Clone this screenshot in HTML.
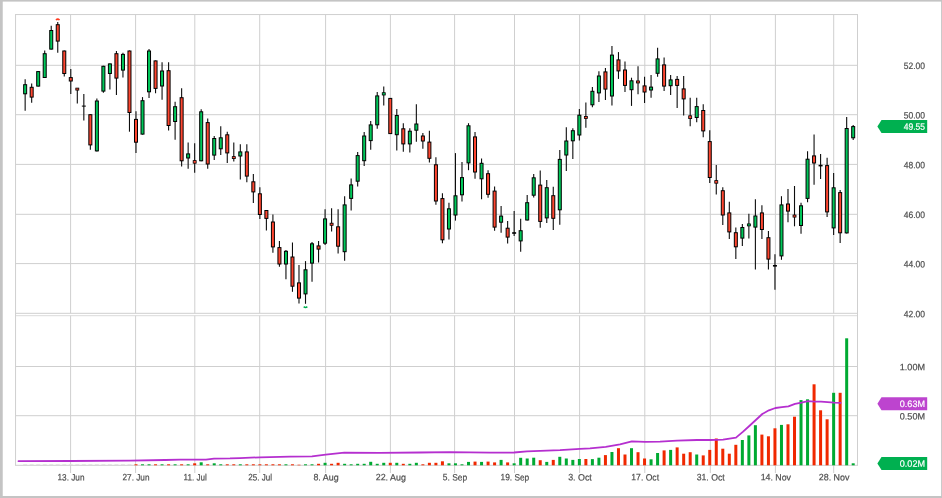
<!DOCTYPE html>
<html><head><meta charset="utf-8"><title>Chart</title>
<style>html,body{margin:0;padding:0;background:#fff}svg{display:block}</style></head>
<body>
<svg width="942" height="498" viewBox="0 0 942 498" font-family="'Liberation Sans', sans-serif" font-size="9.2" text-rendering="geometricPrecision">
<rect x="0" y="0" width="942" height="498" fill="#c4c4c4"/>
<rect x="2.75" y="1.6" width="938.35" height="494.4" fill="#ffffff"/>
<path d="M16.05 315.7H857.0" fill="none" stroke="#dadada" stroke-width="1"/>
<path d="M70.6 14.55V313.3M70.6 315.7V473.0M135.6 14.55V313.3M135.6 315.7V473.0M194.8 14.55V313.3M194.8 315.7V473.0M259.7 14.55V313.3M259.7 315.7V473.0M325.6 14.55V313.3M325.6 315.7V473.0M390.4 14.55V313.3M390.4 315.7V473.0M454.6 14.55V313.3M454.6 315.7V473.0M514.5 14.55V313.3M514.5 315.7V473.0M579.6 14.55V313.3M579.6 315.7V473.0M644.8 14.55V313.3M644.8 315.7V473.0M710.3 14.55V313.3M710.3 315.7V473.0M775.4 14.55V313.3M775.4 315.7V473.0M833.7 14.55V313.3M833.7 315.7V473.0M15.55 65.3H857.5M15.55 114.7H857.5M15.55 164.4H857.5M15.55 214.3H857.5M15.55 263.6H857.5M15.55 366.5H857.5M15.55 415.7H857.5M15.55 14.55H857.5M15.55 313.3H857.5M15.55 465.3H857.5M15.55 14.05V465.8M857.5 14.05V465.8" fill="none" stroke="#cfcfcf" stroke-width="1"/>
<rect x="23.15" y="464.00" width="4" height="0.8" fill="#e2e2e2"/>
<rect x="29.67" y="464.00" width="4" height="0.8" fill="#e2e2e2"/>
<rect x="36.19" y="464.00" width="4" height="0.8" fill="#e2e2e2"/>
<rect x="42.71" y="464.00" width="4" height="0.8" fill="#e2e2e2"/>
<rect x="49.23" y="464.00" width="4" height="0.8" fill="#e2e2e2"/>
<rect x="55.75" y="464.00" width="4" height="0.8" fill="#e2e2e2"/>
<rect x="62.27" y="464.00" width="4" height="0.8" fill="#e2e2e2"/>
<rect x="68.79" y="464.00" width="4" height="0.8" fill="#e2e2e2"/>
<rect x="75.31" y="464.00" width="4" height="0.8" fill="#e2e2e2"/>
<rect x="81.83" y="464.00" width="4" height="0.8" fill="#e2e2e2"/>
<rect x="88.35" y="464.00" width="4" height="0.8" fill="#e2e2e2"/>
<rect x="94.87" y="464.00" width="4" height="0.8" fill="#e2e2e2"/>
<rect x="101.39" y="464.00" width="4" height="0.8" fill="#e2e2e2"/>
<rect x="107.91" y="464.00" width="4" height="0.8" fill="#e2e2e2"/>
<rect x="114.43" y="464.00" width="4" height="0.8" fill="#e2e2e2"/>
<rect x="120.95" y="464.00" width="4" height="0.8" fill="#e2e2e2"/>
<rect x="127.47" y="464.00" width="4" height="0.8" fill="#e2e2e2"/>
<rect x="134.49" y="464.30" width="3" height="1.00" fill="#f02800"/>
<rect x="141.01" y="464.30" width="3" height="1.00" fill="#00aa32"/>
<rect x="147.53" y="464.30" width="3" height="1.00" fill="#00aa32"/>
<rect x="154.05" y="464.30" width="3" height="1.00" fill="#f02800"/>
<rect x="160.57" y="464.30" width="3" height="1.00" fill="#00aa32"/>
<rect x="167.09" y="464.30" width="3" height="1.00" fill="#f02800"/>
<rect x="173.61" y="464.30" width="3" height="1.00" fill="#00aa32"/>
<rect x="180.13" y="464.30" width="3" height="1.00" fill="#f02800"/>
<rect x="186.65" y="464.30" width="3" height="1.00" fill="#00aa32"/>
<rect x="193.17" y="463.30" width="3" height="2.00" fill="#f02800"/>
<rect x="199.69" y="462.30" width="3" height="3.00" fill="#00aa32"/>
<rect x="206.21" y="464.30" width="3" height="1.00" fill="#f02800"/>
<rect x="212.73" y="463.30" width="3" height="2.00" fill="#00aa32"/>
<rect x="219.25" y="464.30" width="3" height="1.00" fill="#00aa32"/>
<rect x="225.77" y="464.30" width="3" height="1.00" fill="#f02800"/>
<rect x="232.29" y="464.30" width="3" height="1.00" fill="#f02800"/>
<rect x="238.81" y="464.30" width="3" height="1.00" fill="#00aa32"/>
<rect x="245.33" y="464.30" width="3" height="1.00" fill="#f02800"/>
<rect x="251.85" y="464.30" width="3" height="1.00" fill="#f02800"/>
<rect x="258.37" y="464.30" width="3" height="1.00" fill="#f02800"/>
<rect x="264.89" y="464.30" width="3" height="1.00" fill="#f02800"/>
<rect x="271.41" y="464.30" width="3" height="1.00" fill="#f02800"/>
<rect x="277.93" y="464.30" width="3" height="1.00" fill="#f02800"/>
<rect x="284.45" y="464.30" width="3" height="1.00" fill="#00aa32"/>
<rect x="290.97" y="464.30" width="3" height="1.00" fill="#f02800"/>
<rect x="297.49" y="464.70" width="3" height="0.60" fill="#f02800"/>
<rect x="304.01" y="464.30" width="3" height="1.00" fill="#00aa32"/>
<rect x="310.53" y="464.30" width="3" height="1.00" fill="#00aa32"/>
<rect x="317.05" y="463.80" width="3" height="1.50" fill="#f02800"/>
<rect x="323.57" y="462.80" width="3" height="2.50" fill="#00aa32"/>
<rect x="330.09" y="463.80" width="3" height="1.50" fill="#f02800"/>
<rect x="336.61" y="462.80" width="3" height="2.50" fill="#f02800"/>
<rect x="343.13" y="463.80" width="3" height="1.50" fill="#00aa32"/>
<rect x="349.65" y="464.30" width="3" height="1.00" fill="#00aa32"/>
<rect x="356.17" y="463.80" width="3" height="1.50" fill="#00aa32"/>
<rect x="362.69" y="463.80" width="3" height="1.50" fill="#00aa32"/>
<rect x="369.21" y="461.80" width="3" height="3.50" fill="#00aa32"/>
<rect x="375.73" y="463.80" width="3" height="1.50" fill="#00aa32"/>
<rect x="382.25" y="462.80" width="3" height="2.50" fill="#00aa32"/>
<rect x="388.77" y="462.80" width="3" height="2.50" fill="#f02800"/>
<rect x="395.29" y="462.80" width="3" height="2.50" fill="#00aa32"/>
<rect x="401.81" y="463.80" width="3" height="1.50" fill="#f02800"/>
<rect x="408.33" y="463.80" width="3" height="1.50" fill="#00aa32"/>
<rect x="414.85" y="462.80" width="3" height="2.50" fill="#00aa32"/>
<rect x="421.37" y="464.30" width="3" height="1.00" fill="#f02800"/>
<rect x="427.89" y="462.80" width="3" height="2.50" fill="#f02800"/>
<rect x="434.41" y="462.80" width="3" height="2.50" fill="#f02800"/>
<rect x="440.93" y="461.30" width="3" height="4.00" fill="#f02800"/>
<rect x="447.45" y="463.30" width="3" height="2.00" fill="#00aa32"/>
<rect x="453.97" y="463.30" width="3" height="2.00" fill="#00aa32"/>
<rect x="460.49" y="464.30" width="3" height="1.00" fill="#00aa32"/>
<rect x="467.01" y="461.90" width="3" height="3.40" fill="#00aa32"/>
<rect x="473.53" y="461.60" width="3" height="3.70" fill="#f02800"/>
<rect x="480.05" y="461.90" width="3" height="3.40" fill="#00aa32"/>
<rect x="486.57" y="461.60" width="3" height="3.70" fill="#f02800"/>
<rect x="493.09" y="462.40" width="3" height="2.90" fill="#f02800"/>
<rect x="499.61" y="459.90" width="3" height="5.40" fill="#00aa32"/>
<rect x="506.13" y="462.40" width="3" height="2.90" fill="#f02800"/>
<rect x="512.65" y="463.30" width="3" height="2.00" fill="#00aa32"/>
<rect x="519.17" y="457.80" width="3" height="7.50" fill="#00aa32"/>
<rect x="525.69" y="458.50" width="3" height="6.80" fill="#00aa32"/>
<rect x="532.21" y="457.70" width="3" height="7.60" fill="#00aa32"/>
<rect x="538.73" y="460.20" width="3" height="5.10" fill="#f02800"/>
<rect x="545.25" y="461.90" width="3" height="3.40" fill="#00aa32"/>
<rect x="551.77" y="459.90" width="3" height="5.40" fill="#f02800"/>
<rect x="558.29" y="456.80" width="3" height="8.50" fill="#00aa32"/>
<rect x="564.81" y="458.50" width="3" height="6.80" fill="#00aa32"/>
<rect x="571.33" y="459.90" width="3" height="5.40" fill="#00aa32"/>
<rect x="577.85" y="459.00" width="3" height="6.30" fill="#00aa32"/>
<rect x="584.37" y="459.00" width="3" height="6.30" fill="#f02800"/>
<rect x="590.89" y="459.10" width="3" height="6.20" fill="#00aa32"/>
<rect x="597.41" y="457.70" width="3" height="7.60" fill="#00aa32"/>
<rect x="603.93" y="455.10" width="3" height="10.20" fill="#f02800"/>
<rect x="610.45" y="452.00" width="3" height="13.30" fill="#00aa32"/>
<rect x="616.97" y="448.20" width="3" height="17.10" fill="#f02800"/>
<rect x="623.49" y="454.50" width="3" height="10.80" fill="#f02800"/>
<rect x="630.01" y="448.20" width="3" height="17.10" fill="#00aa32"/>
<rect x="636.53" y="452.20" width="3" height="13.10" fill="#f02800"/>
<rect x="643.05" y="458.50" width="3" height="6.80" fill="#f02800"/>
<rect x="649.57" y="459.30" width="3" height="6.00" fill="#00aa32"/>
<rect x="656.09" y="453.00" width="3" height="12.30" fill="#00aa32"/>
<rect x="662.61" y="450.40" width="3" height="14.90" fill="#f02800"/>
<rect x="669.13" y="449.90" width="3" height="15.40" fill="#00aa32"/>
<rect x="675.65" y="447.40" width="3" height="17.90" fill="#f02800"/>
<rect x="682.17" y="453.70" width="3" height="11.60" fill="#f02800"/>
<rect x="688.69" y="452.20" width="3" height="13.10" fill="#f02800"/>
<rect x="695.21" y="454.50" width="3" height="10.80" fill="#00aa32"/>
<rect x="701.73" y="455.40" width="3" height="9.90" fill="#f02800"/>
<rect x="708.25" y="449.90" width="3" height="15.40" fill="#f02800"/>
<rect x="714.77" y="438.50" width="3" height="26.80" fill="#f02800"/>
<rect x="721.29" y="448.70" width="3" height="16.60" fill="#f02800"/>
<rect x="727.81" y="453.70" width="3" height="11.60" fill="#f02800"/>
<rect x="734.33" y="444.80" width="3" height="20.50" fill="#f02800"/>
<rect x="740.85" y="440.00" width="3" height="25.30" fill="#00aa32"/>
<rect x="747.37" y="435.40" width="3" height="29.90" fill="#00aa32"/>
<rect x="753.89" y="425.20" width="3" height="40.10" fill="#00aa32"/>
<rect x="760.41" y="434.60" width="3" height="30.70" fill="#f02800"/>
<rect x="766.93" y="436.30" width="3" height="29.00" fill="#f02800"/>
<rect x="773.45" y="428.30" width="3" height="37.00" fill="#f02800"/>
<rect x="779.97" y="424.90" width="3" height="40.40" fill="#00aa32"/>
<rect x="786.49" y="424.30" width="3" height="41.00" fill="#f02800"/>
<rect x="793.01" y="416.70" width="3" height="48.60" fill="#f02800"/>
<rect x="799.53" y="400.10" width="3" height="65.20" fill="#00aa32"/>
<rect x="806.05" y="399.30" width="3" height="66.00" fill="#00aa32"/>
<rect x="812.57" y="384.30" width="3" height="81.00" fill="#f02800"/>
<rect x="819.09" y="410.30" width="3" height="55.00" fill="#f02800"/>
<rect x="825.61" y="419.30" width="3" height="46.00" fill="#f02800"/>
<rect x="832.13" y="392.80" width="3" height="72.50" fill="#00aa32"/>
<rect x="838.65" y="392.80" width="3" height="72.50" fill="#f02800"/>
<rect x="845.17" y="338.30" width="3" height="127.00" fill="#00aa32"/>
<rect x="851.69" y="463.30" width="3" height="2.00" fill="#00aa32"/>
<polyline points="18.5,461.2 70,461.0 130,460.7 165,460.0 180,459.6 206,459.55 214,458.65 230,458.45 240,458.1 260,457.3 290,456.7 312,456.3 325.7,454.6 344.3,452.6 380,452.8 420,452.5 450,452.1 490,452.7 514,452.5 527,451.3 560,450.1 580,448.8 590,448.3 605.7,446.8 620,444.4 631.8,441.4 645,441.9 660,441.7 677,440.7 697,440.0 710,440.0 723,439.6 736,437.6 742.8,431.9 749.3,426 755.8,420 762.3,414 768.9,410.3 775.4,408 781.9,407.2 788.4,406.3 795,403.8 801.5,402.6 808,401.2 814.5,401.6 821,401.7 827.6,402.1 834,402.6 840.6,402.9" fill="none" stroke="#b52fcf" stroke-width="1.8" stroke-linejoin="round" stroke-linecap="round"/>
<path d="M25.15 79.2V110.7" stroke="#0d0d0d" stroke-width="1.1" fill="none"/>
<rect x="23.65" y="84.70" width="3" height="9.10" fill="#00c85a" stroke="#000" stroke-width="1"/>
<path d="M31.67 83.4V102.7" stroke="#0d0d0d" stroke-width="1.1" fill="none"/>
<rect x="30.17" y="87.30" width="3" height="9.80" fill="#ff4630" stroke="#000" stroke-width="1"/>
<path d="M38.19 71.1V86.6" stroke="#0d0d0d" stroke-width="1.1" fill="none"/>
<rect x="36.69" y="71.60" width="3" height="14.50" fill="#00c85a" stroke="#000" stroke-width="1"/>
<path d="M44.71 50.5V78.0" stroke="#0d0d0d" stroke-width="1.1" fill="none"/>
<rect x="43.21" y="53.70" width="3" height="23.80" fill="#00c85a" stroke="#000" stroke-width="1"/>
<path d="M51.23 25.7V49.6" stroke="#0d0d0d" stroke-width="1.1" fill="none"/>
<rect x="49.73" y="30.50" width="3" height="18.60" fill="#00c85a" stroke="#000" stroke-width="1"/>
<path d="M57.75 22.0V52.7" stroke="#0d0d0d" stroke-width="1.1" fill="none"/>
<rect x="56.25" y="24.70" width="3" height="16.40" fill="#ff4630" stroke="#000" stroke-width="1"/>
<path d="M64.27 50.5V76.6" stroke="#0d0d0d" stroke-width="1.1" fill="none"/>
<rect x="62.77" y="51.00" width="3" height="22.50" fill="#ff4630" stroke="#000" stroke-width="1"/>
<path d="M70.79 68.9V94.0" stroke="#0d0d0d" stroke-width="1.1" fill="none"/>
<rect x="69.29" y="77.60" width="3" height="3.40" fill="#ff4630" stroke="#000" stroke-width="1"/>
<path d="M77.31 88.2V103.6" stroke="#0d0d0d" stroke-width="1.1" fill="none"/>
<rect x="75.81" y="88.10" width="3" height="2.00" fill="#ff4630" stroke="#000" stroke-width="0.8"/>
<path d="M83.83 94.0V120.6" stroke="#0d0d0d" stroke-width="1.1" fill="none"/>
<rect x="81.83" y="105.60" width="4" height="1.0" fill="#000"/>
<path d="M90.35 114.2V149.7" stroke="#0d0d0d" stroke-width="1.1" fill="none"/>
<rect x="88.85" y="114.70" width="3" height="30.20" fill="#ff4630" stroke="#000" stroke-width="1"/>
<path d="M96.87 98.4V151.4" stroke="#0d0d0d" stroke-width="1.1" fill="none"/>
<rect x="95.37" y="101.00" width="3" height="49.90" fill="#00c85a" stroke="#000" stroke-width="1"/>
<path d="M103.39 65.8V92.8" stroke="#0d0d0d" stroke-width="1.1" fill="none"/>
<rect x="101.89" y="66.30" width="3" height="24.80" fill="#00c85a" stroke="#000" stroke-width="1"/>
<path d="M109.91 63.4V89.4" stroke="#0d0d0d" stroke-width="1.1" fill="none"/>
<rect x="108.41" y="63.90" width="3" height="9.60" fill="#00c85a" stroke="#000" stroke-width="1"/>
<path d="M116.43 51.0V95.0" stroke="#0d0d0d" stroke-width="1.1" fill="none"/>
<rect x="114.93" y="53.70" width="3" height="24.40" fill="#ff4630" stroke="#000" stroke-width="1"/>
<path d="M122.95 52.7V77.5" stroke="#0d0d0d" stroke-width="1.1" fill="none"/>
<rect x="121.45" y="54.40" width="3" height="15.70" fill="#00c85a" stroke="#000" stroke-width="1"/>
<path d="M129.47 50.5V131.7" stroke="#0d0d0d" stroke-width="1.1" fill="none"/>
<rect x="127.97" y="51.00" width="3" height="61.50" fill="#ff4630" stroke="#000" stroke-width="1"/>
<path d="M135.99 111.3V152.9" stroke="#0d0d0d" stroke-width="1.1" fill="none"/>
<rect x="134.49" y="119.40" width="3" height="22.80" fill="#ff4630" stroke="#000" stroke-width="1"/>
<path d="M142.51 97.1V134.6" stroke="#0d0d0d" stroke-width="1.1" fill="none"/>
<rect x="141.01" y="100.70" width="3" height="33.40" fill="#00c85a" stroke="#000" stroke-width="1"/>
<path d="M149.03 48.9V97.9" stroke="#0d0d0d" stroke-width="1.1" fill="none"/>
<rect x="147.53" y="51.00" width="3" height="40.80" fill="#00c85a" stroke="#000" stroke-width="1"/>
<path d="M155.55 60.4V93.3" stroke="#0d0d0d" stroke-width="1.1" fill="none"/>
<rect x="154.05" y="60.90" width="3" height="27.50" fill="#ff4630" stroke="#000" stroke-width="1"/>
<path d="M162.07 62.2V99.7" stroke="#0d0d0d" stroke-width="1.1" fill="none"/>
<rect x="160.57" y="71.00" width="3" height="15.00" fill="#00c85a" stroke="#000" stroke-width="1"/>
<path d="M168.59 62.2V130.4" stroke="#0d0d0d" stroke-width="1.1" fill="none"/>
<rect x="167.09" y="70.70" width="3" height="54.80" fill="#ff4630" stroke="#000" stroke-width="1"/>
<path d="M175.11 101.8V139.7" stroke="#0d0d0d" stroke-width="1.1" fill="none"/>
<rect x="173.61" y="106.70" width="3" height="14.80" fill="#00c85a" stroke="#000" stroke-width="1"/>
<path d="M181.63 88.3V166.4" stroke="#0d0d0d" stroke-width="1.1" fill="none"/>
<rect x="180.13" y="97.70" width="3" height="63.10" fill="#ff4630" stroke="#000" stroke-width="1"/>
<path d="M188.15 142.5V168.8" stroke="#0d0d0d" stroke-width="1.1" fill="none"/>
<rect x="186.65" y="153.90" width="3" height="4.10" fill="#00c85a" stroke="#000" stroke-width="1"/>
<path d="M194.67 143.3V172.7" stroke="#0d0d0d" stroke-width="1.1" fill="none"/>
<rect x="193.17" y="160.60" width="3" height="2.60" fill="#ff4630" stroke="#000" stroke-width="0.8"/>
<path d="M201.19 109.2V161.3" stroke="#0d0d0d" stroke-width="1.1" fill="none"/>
<rect x="199.69" y="111.80" width="3" height="49.00" fill="#00c85a" stroke="#000" stroke-width="1"/>
<path d="M207.71 118.6V168.8" stroke="#0d0d0d" stroke-width="1.1" fill="none"/>
<rect x="206.21" y="122.60" width="3" height="41.40" fill="#ff4630" stroke="#000" stroke-width="1"/>
<path d="M214.23 136.0V159.9" stroke="#0d0d0d" stroke-width="1.1" fill="none"/>
<rect x="212.73" y="138.50" width="3" height="16.60" fill="#00c85a" stroke="#000" stroke-width="1"/>
<path d="M220.75 126.3V155.1" stroke="#0d0d0d" stroke-width="1.1" fill="none"/>
<rect x="219.25" y="137.80" width="3" height="11.00" fill="#00c85a" stroke="#000" stroke-width="1"/>
<path d="M227.27 131.7V163.0" stroke="#0d0d0d" stroke-width="1.1" fill="none"/>
<rect x="225.77" y="134.80" width="3" height="18.10" fill="#ff4630" stroke="#000" stroke-width="1"/>
<path d="M233.79 142.5V161.6" stroke="#0d0d0d" stroke-width="1.1" fill="none"/>
<rect x="232.29" y="156.60" width="3" height="2.00" fill="#ff4630" stroke="#000" stroke-width="0.8"/>
<path d="M240.31 144.2V179.6" stroke="#0d0d0d" stroke-width="1.1" fill="none"/>
<rect x="238.81" y="151.90" width="3" height="4.10" fill="#00c85a" stroke="#000" stroke-width="1"/>
<path d="M246.83 144.2V182.2" stroke="#0d0d0d" stroke-width="1.1" fill="none"/>
<rect x="245.33" y="151.90" width="3" height="24.20" fill="#ff4630" stroke="#000" stroke-width="1"/>
<path d="M253.35 174.0V203.0" stroke="#0d0d0d" stroke-width="1.1" fill="none"/>
<rect x="251.85" y="181.80" width="3" height="10.10" fill="#ff4630" stroke="#000" stroke-width="1"/>
<path d="M259.87 187.3V218.9" stroke="#0d0d0d" stroke-width="1.1" fill="none"/>
<rect x="258.37" y="193.80" width="3" height="20.70" fill="#ff4630" stroke="#000" stroke-width="1"/>
<path d="M266.39 210.0V230.4" stroke="#0d0d0d" stroke-width="1.1" fill="none"/>
<rect x="264.89" y="210.50" width="3" height="7.90" fill="#ff4630" stroke="#000" stroke-width="1"/>
<path d="M272.91 214.6V252.7" stroke="#0d0d0d" stroke-width="1.1" fill="none"/>
<rect x="271.41" y="222.00" width="3" height="24.90" fill="#ff4630" stroke="#000" stroke-width="1"/>
<path d="M279.43 241.1V266.7" stroke="#0d0d0d" stroke-width="1.1" fill="none"/>
<rect x="277.93" y="247.60" width="3" height="16.40" fill="#ff4630" stroke="#000" stroke-width="1"/>
<path d="M285.95 250.0V279.2" stroke="#0d0d0d" stroke-width="1.1" fill="none"/>
<rect x="284.45" y="251.30" width="3" height="12.70" fill="#00c85a" stroke="#000" stroke-width="1"/>
<path d="M292.47 242.5V291.8" stroke="#0d0d0d" stroke-width="1.1" fill="none"/>
<rect x="290.97" y="257.00" width="3" height="29.20" fill="#ff4630" stroke="#000" stroke-width="1"/>
<path d="M298.99 265.0V303.4" stroke="#0d0d0d" stroke-width="1.1" fill="none"/>
<rect x="297.49" y="282.90" width="3" height="15.20" fill="#ff4630" stroke="#000" stroke-width="1"/>
<path d="M305.51 261.1V303.8" stroke="#0d0d0d" stroke-width="1.1" fill="none"/>
<rect x="304.01" y="269.80" width="3" height="24.10" fill="#00c85a" stroke="#000" stroke-width="1"/>
<path d="M312.03 242.0V281.7" stroke="#0d0d0d" stroke-width="1.1" fill="none"/>
<rect x="310.53" y="243.80" width="3" height="19.30" fill="#00c85a" stroke="#000" stroke-width="1"/>
<path d="M318.55 241.1V262.4" stroke="#0d0d0d" stroke-width="1.1" fill="none"/>
<rect x="317.05" y="245.90" width="3" height="3.20" fill="#ff4630" stroke="#000" stroke-width="1"/>
<path d="M325.07 209.2V245.0" stroke="#0d0d0d" stroke-width="1.1" fill="none"/>
<rect x="323.57" y="218.90" width="3" height="24.30" fill="#00c85a" stroke="#000" stroke-width="1"/>
<path d="M331.59 208.3V231.4" stroke="#0d0d0d" stroke-width="1.1" fill="none"/>
<rect x="330.09" y="223.20" width="3" height="2.10" fill="#ff4630" stroke="#000" stroke-width="0.8"/>
<path d="M338.11 209.2V253.6" stroke="#0d0d0d" stroke-width="1.1" fill="none"/>
<rect x="336.61" y="226.80" width="3" height="19.40" fill="#ff4630" stroke="#000" stroke-width="1"/>
<path d="M344.63 196.2V260.7" stroke="#0d0d0d" stroke-width="1.1" fill="none"/>
<rect x="343.13" y="204.90" width="3" height="46.80" fill="#00c85a" stroke="#000" stroke-width="1"/>
<path d="M351.15 178.4V210.4" stroke="#0d0d0d" stroke-width="1.1" fill="none"/>
<rect x="349.65" y="184.90" width="3" height="13.50" fill="#00c85a" stroke="#000" stroke-width="1"/>
<path d="M357.67 152.1V186.5" stroke="#0d0d0d" stroke-width="1.1" fill="none"/>
<rect x="356.17" y="155.60" width="3" height="25.60" fill="#00c85a" stroke="#000" stroke-width="1"/>
<path d="M364.19 132.1V166.0" stroke="#0d0d0d" stroke-width="1.1" fill="none"/>
<rect x="362.69" y="136.00" width="3" height="24.70" fill="#00c85a" stroke="#000" stroke-width="1"/>
<path d="M370.71 121.0V149.7" stroke="#0d0d0d" stroke-width="1.1" fill="none"/>
<rect x="369.21" y="124.90" width="3" height="15.70" fill="#00c85a" stroke="#000" stroke-width="1"/>
<path d="M377.23 92.0V128.7" stroke="#0d0d0d" stroke-width="1.1" fill="none"/>
<rect x="375.73" y="95.90" width="3" height="28.90" fill="#00c85a" stroke="#000" stroke-width="1"/>
<path d="M383.75 86.5V105.6" stroke="#0d0d0d" stroke-width="1.1" fill="none"/>
<rect x="382.25" y="92.70" width="3" height="2.30" fill="#00c85a" stroke="#000" stroke-width="0.8"/>
<path d="M390.27 97.9V134.1" stroke="#0d0d0d" stroke-width="1.1" fill="none"/>
<rect x="388.77" y="98.40" width="3" height="35.20" fill="#ff4630" stroke="#000" stroke-width="1"/>
<path d="M396.79 109.0V150.4" stroke="#0d0d0d" stroke-width="1.1" fill="none"/>
<rect x="395.29" y="115.50" width="3" height="19.20" fill="#00c85a" stroke="#000" stroke-width="1"/>
<path d="M403.31 123.2V151.7" stroke="#0d0d0d" stroke-width="1.1" fill="none"/>
<rect x="401.81" y="128.80" width="3" height="15.10" fill="#ff4630" stroke="#000" stroke-width="1"/>
<path d="M409.83 128.2V152.6" stroke="#0d0d0d" stroke-width="1.1" fill="none"/>
<rect x="408.33" y="131.20" width="3" height="12.70" fill="#00c85a" stroke="#000" stroke-width="1"/>
<path d="M416.35 104.2V141.8" stroke="#0d0d0d" stroke-width="1.1" fill="none"/>
<rect x="414.85" y="124.00" width="3" height="6.20" fill="#00c85a" stroke="#000" stroke-width="1"/>
<path d="M422.87 132.9V148.8" stroke="#0d0d0d" stroke-width="1.1" fill="none"/>
<rect x="421.37" y="136.00" width="3" height="5.00" fill="#ff4630" stroke="#000" stroke-width="1"/>
<path d="M429.39 130.7V162.6" stroke="#0d0d0d" stroke-width="1.1" fill="none"/>
<rect x="427.89" y="142.10" width="3" height="16.20" fill="#ff4630" stroke="#000" stroke-width="1"/>
<path d="M435.91 157.2V204.7" stroke="#0d0d0d" stroke-width="1.1" fill="none"/>
<rect x="434.41" y="164.80" width="3" height="36.20" fill="#ff4630" stroke="#000" stroke-width="1"/>
<path d="M442.43 193.3V243.2" stroke="#0d0d0d" stroke-width="1.1" fill="none"/>
<rect x="440.93" y="198.60" width="3" height="41.20" fill="#ff4630" stroke="#000" stroke-width="1"/>
<path d="M448.95 202.7V239.4" stroke="#0d0d0d" stroke-width="1.1" fill="none"/>
<rect x="447.45" y="208.80" width="3" height="20.20" fill="#00c85a" stroke="#000" stroke-width="1"/>
<path d="M455.47 153.1V220.6" stroke="#0d0d0d" stroke-width="1.1" fill="none"/>
<rect x="453.97" y="195.80" width="3" height="19.20" fill="#00c85a" stroke="#000" stroke-width="1"/>
<path d="M461.99 162.0V201.5" stroke="#0d0d0d" stroke-width="1.1" fill="none"/>
<rect x="460.49" y="177.60" width="3" height="17.20" fill="#00c85a" stroke="#000" stroke-width="1"/>
<path d="M468.51 123.2V170.2" stroke="#0d0d0d" stroke-width="1.1" fill="none"/>
<rect x="467.01" y="125.80" width="3" height="37.10" fill="#00c85a" stroke="#000" stroke-width="1"/>
<path d="M475.03 132.1V178.8" stroke="#0d0d0d" stroke-width="1.1" fill="none"/>
<rect x="473.53" y="136.90" width="3" height="35.10" fill="#ff4630" stroke="#000" stroke-width="1"/>
<path d="M481.55 158.6V199.3" stroke="#0d0d0d" stroke-width="1.1" fill="none"/>
<rect x="480.05" y="163.30" width="3" height="15.50" fill="#00c85a" stroke="#000" stroke-width="1"/>
<path d="M488.07 170.3V197.7" stroke="#0d0d0d" stroke-width="1.1" fill="none"/>
<rect x="486.57" y="173.70" width="3" height="20.60" fill="#ff4630" stroke="#000" stroke-width="1"/>
<path d="M494.59 186.6V230.8" stroke="#0d0d0d" stroke-width="1.1" fill="none"/>
<rect x="493.09" y="191.10" width="3" height="36.00" fill="#ff4630" stroke="#000" stroke-width="1"/>
<path d="M501.11 205.9V232.8" stroke="#0d0d0d" stroke-width="1.1" fill="none"/>
<rect x="499.61" y="216.10" width="3" height="6.10" fill="#00c85a" stroke="#000" stroke-width="1"/>
<path d="M507.63 221.0V243.6" stroke="#0d0d0d" stroke-width="1.1" fill="none"/>
<rect x="506.13" y="228.20" width="3" height="8.90" fill="#ff4630" stroke="#000" stroke-width="1"/>
<path d="M514.15 211.1V235.9" stroke="#0d0d0d" stroke-width="1.1" fill="none"/>
<rect x="512.15" y="232.20" width="4" height="1.6" fill="#000"/>
<path d="M520.67 218.8V251.8" stroke="#0d0d0d" stroke-width="1.1" fill="none"/>
<rect x="519.17" y="230.70" width="3" height="10.20" fill="#00c85a" stroke="#000" stroke-width="1"/>
<path d="M527.19 194.9V220.5" stroke="#0d0d0d" stroke-width="1.1" fill="none"/>
<rect x="525.69" y="202.70" width="3" height="17.30" fill="#00c85a" stroke="#000" stroke-width="1"/>
<path d="M533.71 173.9V197.4" stroke="#0d0d0d" stroke-width="1.1" fill="none"/>
<rect x="532.21" y="177.80" width="3" height="17.40" fill="#00c85a" stroke="#000" stroke-width="1"/>
<path d="M540.23 170.6V227.8" stroke="#0d0d0d" stroke-width="1.1" fill="none"/>
<rect x="538.73" y="185.10" width="3" height="36.30" fill="#ff4630" stroke="#000" stroke-width="1"/>
<path d="M546.75 180.0V223.0" stroke="#0d0d0d" stroke-width="1.1" fill="none"/>
<rect x="545.25" y="187.70" width="3" height="30.20" fill="#00c85a" stroke="#000" stroke-width="1"/>
<path d="M553.27 186.7V229.9" stroke="#0d0d0d" stroke-width="1.1" fill="none"/>
<rect x="551.77" y="195.70" width="3" height="22.60" fill="#ff4630" stroke="#000" stroke-width="1"/>
<path d="M559.79 150.0V224.8" stroke="#0d0d0d" stroke-width="1.1" fill="none"/>
<rect x="558.29" y="159.40" width="3" height="50.40" fill="#00c85a" stroke="#000" stroke-width="1"/>
<path d="M566.31 127.3V170.9" stroke="#0d0d0d" stroke-width="1.1" fill="none"/>
<rect x="564.81" y="141.00" width="3" height="14.00" fill="#00c85a" stroke="#000" stroke-width="1"/>
<path d="M572.83 128.2V158.9" stroke="#0d0d0d" stroke-width="1.1" fill="none"/>
<rect x="571.33" y="130.70" width="3" height="10.10" fill="#00c85a" stroke="#000" stroke-width="1"/>
<path d="M579.35 109.0V140.6" stroke="#0d0d0d" stroke-width="1.1" fill="none"/>
<rect x="577.85" y="115.20" width="3" height="19.80" fill="#00c85a" stroke="#000" stroke-width="1"/>
<path d="M585.87 102.5V127.7" stroke="#0d0d0d" stroke-width="1.1" fill="none"/>
<rect x="584.37" y="116.55" width="3" height="2.00" fill="#ff4630" stroke="#000" stroke-width="0.8"/>
<path d="M592.39 87.1V107.2" stroke="#0d0d0d" stroke-width="1.1" fill="none"/>
<rect x="590.89" y="91.30" width="3" height="13.50" fill="#00c85a" stroke="#000" stroke-width="1"/>
<path d="M598.91 71.2V102.1" stroke="#0d0d0d" stroke-width="1.1" fill="none"/>
<rect x="597.41" y="76.00" width="3" height="16.90" fill="#00c85a" stroke="#000" stroke-width="1"/>
<path d="M605.43 68.0V99.9" stroke="#0d0d0d" stroke-width="1.1" fill="none"/>
<rect x="603.93" y="71.90" width="3" height="17.20" fill="#ff4630" stroke="#000" stroke-width="1"/>
<path d="M611.95 46.1V105.5" stroke="#0d0d0d" stroke-width="1.1" fill="none"/>
<rect x="610.45" y="55.10" width="3" height="40.90" fill="#00c85a" stroke="#000" stroke-width="1"/>
<path d="M618.47 52.1V78.9" stroke="#0d0d0d" stroke-width="1.1" fill="none"/>
<rect x="616.97" y="59.90" width="3" height="11.00" fill="#ff4630" stroke="#000" stroke-width="1"/>
<path d="M624.99 61.5V91.9" stroke="#0d0d0d" stroke-width="1.1" fill="none"/>
<rect x="623.49" y="70.00" width="3" height="15.40" fill="#ff4630" stroke="#000" stroke-width="1"/>
<path d="M631.51 77.7V105.9" stroke="#0d0d0d" stroke-width="1.1" fill="none"/>
<rect x="630.01" y="80.80" width="3" height="8.90" fill="#00c85a" stroke="#000" stroke-width="1"/>
<path d="M638.03 66.3V94.3" stroke="#0d0d0d" stroke-width="1.1" fill="none"/>
<rect x="636.53" y="80.95" width="3" height="2.00" fill="#ff4630" stroke="#000" stroke-width="0.8"/>
<path d="M644.55 76.8V103.0" stroke="#0d0d0d" stroke-width="1.1" fill="none"/>
<rect x="643.05" y="85.90" width="3" height="6.10" fill="#ff4630" stroke="#000" stroke-width="1"/>
<path d="M651.07 75.1V97.7" stroke="#0d0d0d" stroke-width="1.1" fill="none"/>
<rect x="649.57" y="87.10" width="3" height="2.90" fill="#00c85a" stroke="#000" stroke-width="1"/>
<path d="M657.59 47.8V76.8" stroke="#0d0d0d" stroke-width="1.1" fill="none"/>
<rect x="656.09" y="58.90" width="3" height="14.40" fill="#00c85a" stroke="#000" stroke-width="1"/>
<path d="M664.11 57.5V91.0" stroke="#0d0d0d" stroke-width="1.1" fill="none"/>
<rect x="662.61" y="64.90" width="3" height="21.20" fill="#ff4630" stroke="#000" stroke-width="1"/>
<path d="M670.63 75.1V95.1" stroke="#0d0d0d" stroke-width="1.1" fill="none"/>
<rect x="669.13" y="79.90" width="3" height="5.80" fill="#00c85a" stroke="#000" stroke-width="1"/>
<path d="M677.15 76.0V107.9" stroke="#0d0d0d" stroke-width="1.1" fill="none"/>
<rect x="675.65" y="79.40" width="3" height="6.00" fill="#ff4630" stroke="#000" stroke-width="1"/>
<path d="M683.67 76.0V115.6" stroke="#0d0d0d" stroke-width="1.1" fill="none"/>
<rect x="682.17" y="88.90" width="3" height="10.00" fill="#ff4630" stroke="#000" stroke-width="1"/>
<path d="M690.19 97.7V126.3" stroke="#0d0d0d" stroke-width="1.1" fill="none"/>
<rect x="688.69" y="115.80" width="3" height="2.80" fill="#ff4630" stroke="#000" stroke-width="0.8"/>
<path d="M696.71 97.7V122.3" stroke="#0d0d0d" stroke-width="1.1" fill="none"/>
<rect x="695.21" y="106.60" width="3" height="10.90" fill="#00c85a" stroke="#000" stroke-width="1"/>
<path d="M703.23 104.3V137.3" stroke="#0d0d0d" stroke-width="1.1" fill="none"/>
<rect x="701.73" y="110.50" width="3" height="20.40" fill="#ff4630" stroke="#000" stroke-width="1"/>
<path d="M709.75 130.3V183.0" stroke="#0d0d0d" stroke-width="1.1" fill="none"/>
<rect x="708.25" y="141.60" width="3" height="35.90" fill="#ff4630" stroke="#000" stroke-width="1"/>
<path d="M716.27 164.9V194.5" stroke="#0d0d0d" stroke-width="1.1" fill="none"/>
<rect x="714.77" y="180.60" width="3" height="2.60" fill="#ff4630" stroke="#000" stroke-width="0.8"/>
<path d="M722.79 187.3V224.9" stroke="#0d0d0d" stroke-width="1.1" fill="none"/>
<rect x="721.29" y="190.70" width="3" height="24.30" fill="#ff4630" stroke="#000" stroke-width="1"/>
<path d="M729.31 201.8V239.1" stroke="#0d0d0d" stroke-width="1.1" fill="none"/>
<rect x="727.81" y="212.90" width="3" height="19.00" fill="#ff4630" stroke="#000" stroke-width="1"/>
<path d="M735.83 227.6V258.9" stroke="#0d0d0d" stroke-width="1.1" fill="none"/>
<rect x="734.33" y="232.70" width="3" height="14.10" fill="#ff4630" stroke="#000" stroke-width="1"/>
<path d="M742.35 224.1V246.0" stroke="#0d0d0d" stroke-width="1.1" fill="none"/>
<rect x="740.85" y="227.50" width="3" height="10.60" fill="#00c85a" stroke="#000" stroke-width="1"/>
<path d="M748.87 213.8V238.4" stroke="#0d0d0d" stroke-width="1.1" fill="none"/>
<rect x="747.37" y="223.90" width="3" height="2.00" fill="#00c85a" stroke="#000" stroke-width="0.8"/>
<path d="M755.39 199.3V269.5" stroke="#0d0d0d" stroke-width="1.1" fill="none"/>
<rect x="753.89" y="216.00" width="3" height="11.10" fill="#00c85a" stroke="#000" stroke-width="1"/>
<path d="M761.91 205.3V239.1" stroke="#0d0d0d" stroke-width="1.1" fill="none"/>
<rect x="760.41" y="212.90" width="3" height="16.60" fill="#ff4630" stroke="#000" stroke-width="1"/>
<path d="M768.43 231.0V269.5" stroke="#0d0d0d" stroke-width="1.1" fill="none"/>
<rect x="766.93" y="237.70" width="3" height="21.40" fill="#ff4630" stroke="#000" stroke-width="1"/>
<path d="M774.95 254.2V289.7" stroke="#0d0d0d" stroke-width="1.1" fill="none"/>
<rect x="772.95" y="265.00" width="4" height="1.6" fill="#000"/>
<path d="M781.47 196.2V259.8" stroke="#0d0d0d" stroke-width="1.1" fill="none"/>
<rect x="779.97" y="204.90" width="3" height="51.00" fill="#00c85a" stroke="#000" stroke-width="1"/>
<path d="M787.99 189.0V222.3" stroke="#0d0d0d" stroke-width="1.1" fill="none"/>
<rect x="786.49" y="204.00" width="3" height="7.10" fill="#ff4630" stroke="#000" stroke-width="1"/>
<path d="M794.51 186.0V226.3" stroke="#0d0d0d" stroke-width="1.1" fill="none"/>
<rect x="793.01" y="215.00" width="3" height="2.10" fill="#ff4630" stroke="#000" stroke-width="0.8"/>
<path d="M801.03 202.7V233.8" stroke="#0d0d0d" stroke-width="1.1" fill="none"/>
<rect x="799.53" y="205.80" width="3" height="19.70" fill="#00c85a" stroke="#000" stroke-width="1"/>
<path d="M807.55 151.3V202.3" stroke="#0d0d0d" stroke-width="1.1" fill="none"/>
<rect x="806.05" y="159.20" width="3" height="39.20" fill="#00c85a" stroke="#000" stroke-width="1"/>
<path d="M814.07 134.5V184.8" stroke="#0d0d0d" stroke-width="1.1" fill="none"/>
<rect x="812.57" y="155.90" width="3" height="7.10" fill="#ff4630" stroke="#000" stroke-width="1"/>
<path d="M820.59 153.9V179.1" stroke="#0d0d0d" stroke-width="1.1" fill="none"/>
<rect x="818.59" y="164.80" width="4" height="1.6" fill="#000"/>
<path d="M827.11 157.7V216.9" stroke="#0d0d0d" stroke-width="1.1" fill="none"/>
<rect x="825.61" y="165.60" width="3" height="46.30" fill="#ff4630" stroke="#000" stroke-width="1"/>
<path d="M833.63 172.9V235.0" stroke="#0d0d0d" stroke-width="1.1" fill="none"/>
<rect x="832.13" y="187.80" width="3" height="40.10" fill="#00c85a" stroke="#000" stroke-width="1"/>
<path d="M840.15 189.9V242.9" stroke="#0d0d0d" stroke-width="1.1" fill="none"/>
<rect x="838.65" y="192.60" width="3" height="40.20" fill="#ff4630" stroke="#000" stroke-width="1"/>
<path d="M846.67 117.1V233.4" stroke="#0d0d0d" stroke-width="1.1" fill="none"/>
<rect x="845.17" y="128.50" width="3" height="104.40" fill="#00c85a" stroke="#000" stroke-width="1"/>
<path d="M853.19 124.9V139.9" stroke="#0d0d0d" stroke-width="1.1" fill="none"/>
<rect x="851.69" y="126.60" width="3" height="11.20" fill="#00c85a" stroke="#000" stroke-width="1"/>
<path d="M55.95 20 Q57.75 18.2 59.55 20" stroke="#ff3a20" stroke-width="1.5" fill="none"/>
<path d="M303.71 306.6 Q305.51 308.4 307.31 306.6" stroke="#00b050" stroke-width="1.5" fill="none"/>
<text x="71.0" y="480.4" transform="rotate(0.1 71.0 480.4)" text-anchor="middle" fill="#4c4c4c" stroke="#4c4c4c" stroke-width="0.2" textLength="27" lengthAdjust="spacingAndGlyphs">13. Jun</text>
<text x="136.0" y="480.4" transform="rotate(0.1 136.0 480.4)" text-anchor="middle" fill="#4c4c4c" stroke="#4c4c4c" stroke-width="0.2" textLength="27" lengthAdjust="spacingAndGlyphs">27. Jun</text>
<text x="195.2" y="480.4" transform="rotate(0.1 195.2 480.4)" text-anchor="middle" fill="#4c4c4c" stroke="#4c4c4c" stroke-width="0.2" textLength="23.2" lengthAdjust="spacingAndGlyphs">11. Jul</text>
<text x="260.1" y="480.4" transform="rotate(0.1 260.1 480.4)" text-anchor="middle" fill="#4c4c4c" stroke="#4c4c4c" stroke-width="0.2" textLength="23.7" lengthAdjust="spacingAndGlyphs">25. Jul</text>
<text x="326.0" y="480.4" transform="rotate(0.1 326.0 480.4)" text-anchor="middle" fill="#4c4c4c" stroke="#4c4c4c" stroke-width="0.2" textLength="25.2" lengthAdjust="spacingAndGlyphs">8. Aug</text>
<text x="390.8" y="480.4" transform="rotate(0.1 390.8 480.4)" text-anchor="middle" fill="#4c4c4c" stroke="#4c4c4c" stroke-width="0.2" textLength="30.2" lengthAdjust="spacingAndGlyphs">22. Aug</text>
<text x="455.0" y="480.4" transform="rotate(0.1 455.0 480.4)" text-anchor="middle" fill="#4c4c4c" stroke="#4c4c4c" stroke-width="0.2" textLength="24.4" lengthAdjust="spacingAndGlyphs">5. Sep</text>
<text x="514.9" y="480.4" transform="rotate(0.1 514.9 480.4)" text-anchor="middle" fill="#4c4c4c" stroke="#4c4c4c" stroke-width="0.2" textLength="28.7" lengthAdjust="spacingAndGlyphs">19. Sep</text>
<text x="580.0" y="480.4" transform="rotate(0.1 580.0 480.4)" text-anchor="middle" fill="#4c4c4c" stroke="#4c4c4c" stroke-width="0.2" textLength="23.7" lengthAdjust="spacingAndGlyphs">3. Oct</text>
<text x="645.2" y="480.4" transform="rotate(0.1 645.2 480.4)" text-anchor="middle" fill="#4c4c4c" stroke="#4c4c4c" stroke-width="0.2" textLength="27.7" lengthAdjust="spacingAndGlyphs">17. Oct</text>
<text x="710.7" y="480.4" transform="rotate(0.1 710.7 480.4)" text-anchor="middle" fill="#4c4c4c" stroke="#4c4c4c" stroke-width="0.2" textLength="28.1" lengthAdjust="spacingAndGlyphs">31. Oct</text>
<text x="775.8" y="480.4" transform="rotate(0.1 775.8 480.4)" text-anchor="middle" fill="#4c4c4c" stroke="#4c4c4c" stroke-width="0.2" textLength="30.3" lengthAdjust="spacingAndGlyphs">14. Nov</text>
<text x="834.1" y="480.4" transform="rotate(0.1 834.1 480.4)" text-anchor="middle" fill="#4c4c4c" stroke="#4c4c4c" stroke-width="0.2" textLength="30.7" lengthAdjust="spacingAndGlyphs">28. Nov</text>
<text x="925" y="69.10" transform="rotate(0.1 925 69.10)" text-anchor="end" fill="#4c4c4c" stroke="#4c4c4c" stroke-width="0.2" textLength="21.3" lengthAdjust="spacingAndGlyphs">52.00</text>
<text x="925" y="118.50" transform="rotate(0.1 925 118.50)" text-anchor="end" fill="#4c4c4c" stroke="#4c4c4c" stroke-width="0.2" textLength="21.3" lengthAdjust="spacingAndGlyphs">50.00</text>
<text x="925" y="168.20" transform="rotate(0.1 925 168.20)" text-anchor="end" fill="#4c4c4c" stroke="#4c4c4c" stroke-width="0.2" textLength="21.3" lengthAdjust="spacingAndGlyphs">48.00</text>
<text x="925" y="218.10" transform="rotate(0.1 925 218.10)" text-anchor="end" fill="#4c4c4c" stroke="#4c4c4c" stroke-width="0.2" textLength="21.3" lengthAdjust="spacingAndGlyphs">46.00</text>
<text x="925" y="267.40" transform="rotate(0.1 925 267.40)" text-anchor="end" fill="#4c4c4c" stroke="#4c4c4c" stroke-width="0.2" textLength="21.3" lengthAdjust="spacingAndGlyphs">44.00</text>
<text x="925" y="317.30" transform="rotate(0.1 925 317.30)" text-anchor="end" fill="#4c4c4c" stroke="#4c4c4c" stroke-width="0.2" textLength="21.3" lengthAdjust="spacingAndGlyphs">42.00</text>
<text x="925" y="370.30" transform="rotate(0.1 925 370.30)" text-anchor="end" fill="#4c4c4c" stroke="#4c4c4c" stroke-width="0.2" textLength="25.2" lengthAdjust="spacingAndGlyphs">1.00M</text>
<text x="925" y="419.50" transform="rotate(0.1 925 419.50)" text-anchor="end" fill="#4c4c4c" stroke="#4c4c4c" stroke-width="0.2" textLength="25.2" lengthAdjust="spacingAndGlyphs">0.50M</text>
<path d="M877.4 126.4L881.5 119.9H927.2V132.9H881.5Z" fill="#00b050"/>
<text x="925" y="129.85" transform="rotate(0.1 925 129.85)" text-anchor="end" fill="#ffffff" stroke="#ffffff" stroke-width="0.2" textLength="21.3" lengthAdjust="spacingAndGlyphs">49.55</text>
<path d="M877.4 403.7L881.5 397.2H927.2V410.2H881.5Z" fill="#bd44cf"/>
<text x="925" y="407.00" transform="rotate(0.1 925 407.00)" text-anchor="end" fill="#ffffff" stroke="#ffffff" stroke-width="0.2" textLength="25.2" lengthAdjust="spacingAndGlyphs">0.63M</text>
<path d="M877.4 463.5L881.5 457.0H927.2V470.0H881.5Z" fill="#00b050"/>
<text x="925" y="466.80" transform="rotate(0.1 925 466.80)" text-anchor="end" fill="#ffffff" stroke="#ffffff" stroke-width="0.2" textLength="25.2" lengthAdjust="spacingAndGlyphs">0.02M</text>
</svg>
</body></html>
